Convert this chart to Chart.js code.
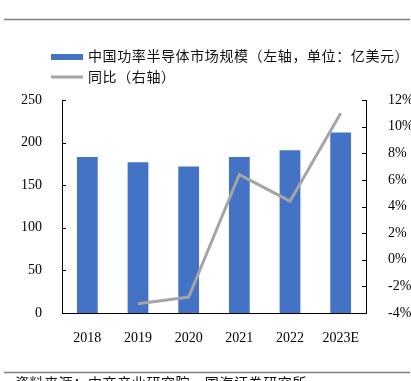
<!DOCTYPE html>
<html>
<head>
<meta charset="utf-8">
<script src="https://cdn.jsdelivr.net/npm/chart.js@4"></script>
<style>
  body { margin: 0; background: #fff; }
  #wrap { width: 411px; height: 381px; }
</style>
</head>
<body>
<div id="wrap"><canvas id="powerChart" width="411" height="381"></canvas></div>
<script>
const years = ["2018", "2019", "2020", "2021", "2022", "2023E"];
const marketSize = [183, 177, 172, 183, 191, 212]; // 亿美元
const yoyGrowth = [null, -3.3, -2.8, 6.4, 4.4, 11.0]; // %
const leftTicks = [0, 50, 100, 150, 200, 250];
const rightTicks = [-4, -2, 0, 2, 4, 6, 8, 10, 12];

const barLabel = "中国功率半导体市场规模（左轴，单位：亿美元）";
const lineLabel = "同比（右轴）";
const sourceText = "资料来源：中商产业研究院，国海证券研究所";

const blue = "#4472C4";
const grey = "#A5A5A5";
const serif = "'Liberation Serif', 'Times New Roman', serif";
const cjk = "'Noto Sans CJK SC', sans-serif";

// rules, legend, source note and the inward tick marks
const decorations = {
  id: "decorations",
  afterDraw(chart) {
    const ctx = chart.ctx;
    ctx.save();

    ctx.strokeStyle = "#808080";
    ctx.lineWidth = 1.5;
    ctx.beginPath();
    ctx.moveTo(4, 19.5); ctx.lineTo(410, 19.5);
    ctx.moveTo(4, 372.5); ctx.lineTo(410, 372.5);
    ctx.stroke();

    // legend
    ctx.fillStyle = blue;
    ctx.fillRect(51, 54, 32, 6);
    ctx.strokeStyle = grey;
    ctx.lineWidth = 3;
    ctx.beginPath();
    ctx.moveTo(51, 77); ctx.lineTo(83, 77);
    ctx.stroke();

    ctx.fillStyle = "#111";
    ctx.font = "14px " + cjk;
    ctx.letterSpacing = "0.6px";
    ctx.textBaseline = "middle";
    ctx.textAlign = "left";
    ctx.fillText(barLabel, 88, 56);
    ctx.fillText(lineLabel, 88, 77);

    ctx.textBaseline = "top";
    ctx.fillText(sourceText, 15, 376);
    ctx.letterSpacing = "0px";

    // tick marks pointing into the plot
    const y = chart.scales.y;
    const y1 = chart.scales.y1;
    ctx.strokeStyle = "#000";
    ctx.lineWidth = 1;
    ctx.beginPath();
    y.ticks.forEach(t => {
      const py = Math.round(y.getPixelForValue(t.value)) + 0.5;
      ctx.moveTo(y.right, py); ctx.lineTo(y.right + 4, py);
    });
    y1.ticks.forEach(t => {
      const py = Math.round(y1.getPixelForValue(t.value)) + 0.5;
      ctx.moveTo(y1.left - 4, py); ctx.lineTo(y1.left, py);
    });
    ctx.stroke();

    ctx.restore();
  }
};

new Chart(document.getElementById("powerChart"), {
  type: "bar",
  data: {
    labels: years,
    datasets: [
      {
        type: "line",
        label: lineLabel,
        data: yoyGrowth,
        yAxisID: "y1",
        borderColor: grey,
        backgroundColor: grey,
        borderWidth: 3,
        pointRadius: 0,
        tension: 0,
        order: 0,
      },
      {
        type: "bar",
        label: barLabel,
        data: marketSize,
        yAxisID: "y",
        backgroundColor: blue,
        barPercentage: 0.41,
        categoryPercentage: 1,
        order: 1,
      },
    ],
  },
  options: {
    responsive: false,
    animation: false,
    layout: { padding: { top: 100, left: 0, right: 0, bottom: 0 } },
    plugins: {
      legend: { display: false },
      tooltip: { enabled: false },
    },
    scales: {
      x: {
        grid: { display: false },
        border: { display: true, color: "#000", width: 1 },
        ticks: {
          color: "#000",
          font: { family: serif, size: 14 },
          padding: 9,
          maxRotation: 0,
          autoSkip: false,
        },
        afterFit(scale) { scale.height = 68; },
      },
      y: {
        position: "left",
        min: 0,
        max: 250,
        grid: { display: false },
        border: { display: true, color: "#000", width: 1 },
        afterBuildTicks(scale) { scale.ticks = leftTicks.map(v => ({ value: v })); },
        ticks: {
          color: "#000",
          font: { family: serif, size: 14 },
          padding: 12,
        },
        afterFit(scale) { scale.width = 62; },
      },
      y1: {
        position: "right",
        min: -4,
        max: 12,
        grid: { display: false },
        border: { display: true, color: "#000", width: 1 },
        afterBuildTicks(scale) { scale.ticks = rightTicks.map(v => ({ value: v })); },
        ticks: {
          color: "#000",
          font: { family: serif, size: 14 },
          padding: 14,
          callback: v => v + "%",
        },
        afterFit(scale) { scale.width = 45; },
      },
    },
  },
  plugins: [decorations],
});
</script>
</body>
</html>
